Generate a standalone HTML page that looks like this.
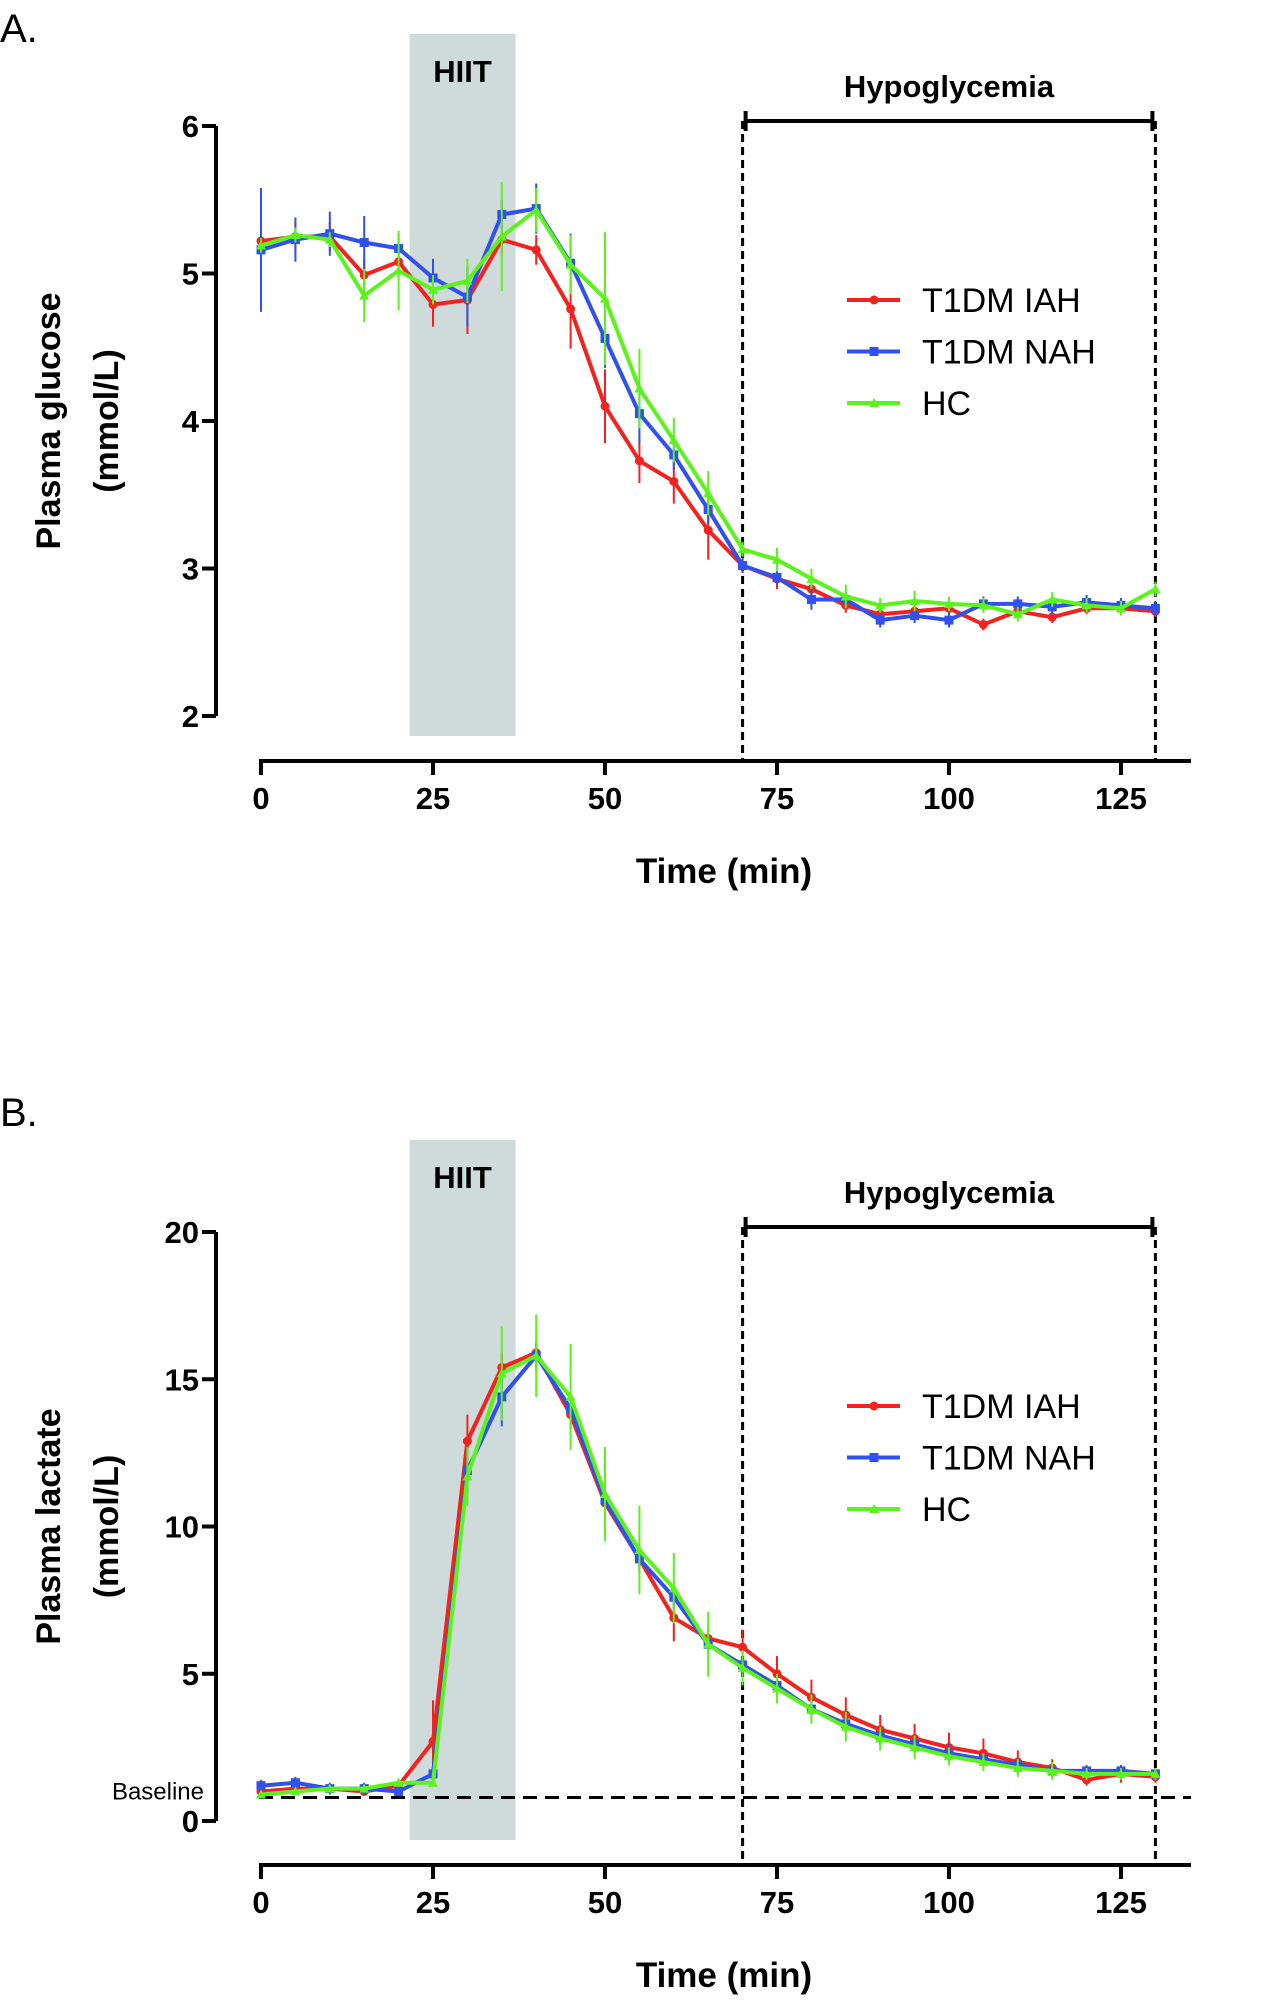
<!DOCTYPE html>
<html><head><meta charset="utf-8"><style>
html,body{margin:0;padding:0;background:#fff;}
svg{display:block;font-family:"Liberation Sans",sans-serif;}
</style></head><body>
<svg id="fig" width="1267" height="2000" viewBox="0 0 1267 2000" xmlns="http://www.w3.org/2000/svg"></svg>
<script>
const times=[0,5,10,15,20,25,30,35,40,45,50,55,60,65,70,75,80,85,90,95,100,105,110,115,120,125,130];
const xTicks=[0,25,50,75,100,125];
const gluIAH=[5.22,5.25,5.25,4.99,5.08,4.79,4.82,5.23,5.16,4.76,4.10,3.73,3.59,3.26,3.02,2.93,2.86,2.75,2.69,2.71,2.73,2.62,2.71,2.67,2.73,2.73,2.71];
const gluNAH=[5.16,5.23,5.27,5.21,5.17,4.97,4.84,5.40,5.44,5.07,4.56,4.05,3.77,3.40,3.02,2.94,2.79,2.79,2.65,2.68,2.65,2.76,2.76,2.74,2.77,2.75,2.73];
const gluHC=[5.19,5.26,5.23,4.85,5.02,4.89,4.95,5.25,5.43,5.06,4.83,4.22,3.87,3.51,3.13,3.06,2.93,2.81,2.75,2.78,2.76,2.75,2.69,2.79,2.75,2.73,2.86];
const gluIAHerr=[0.05,0.1,0.1,0.1,0.1,0.15,0.23,0.1,0.1,0.27,0.25,0.15,0.15,0.2,0.05,0.07,0.05,0.05,0.04,0.04,0.04,0.04,0.04,0.04,0.04,0.04,0.04];
const gluNAHerr=[0.42,0.15,0.15,0.18,0.1,0.13,0.2,0.1,0.17,0.2,0.2,0.2,0.1,0.1,0.05,0.05,0.07,0.05,0.05,0.05,0.05,0.05,0.05,0.05,0.05,0.05,0.05];
const gluHCerr=[0.05,0.05,0.05,0.18,0.27,0.1,0.15,0.37,0.15,0.2,0.45,0.27,0.15,0.15,0.05,0.08,0.07,0.08,0.05,0.07,0.05,0.05,0.05,0.05,0.05,0.05,0.05];
const gluTicks=[2,3,4,5,6];
const lacIAH=[1.0,1.1,1.1,1.0,1.2,2.7,12.9,15.4,15.9,13.8,10.8,8.9,6.9,6.2,5.9,5.0,4.2,3.6,3.1,2.8,2.5,2.3,2.0,1.8,1.4,1.6,1.5];
const lacNAH=[1.2,1.3,1.1,1.1,1.0,1.6,11.9,14.4,15.8,14.0,10.9,8.9,7.6,6.0,5.3,4.6,3.8,3.3,2.9,2.6,2.3,2.1,1.9,1.7,1.7,1.7,1.6];
const lacHC=[0.9,1.0,1.1,1.1,1.3,1.3,11.7,15.2,15.8,14.4,11.1,9.2,7.9,6.0,5.2,4.5,3.8,3.2,2.8,2.5,2.2,2.0,1.8,1.7,1.6,1.6,1.6];
const lacIAHerr=[0.1,0.1,0.1,0.1,0.1,1.4,0.9,0.5,0.3,0.5,0.5,0.5,0.8,0.3,0.6,0.6,0.6,0.6,0.5,0.5,0.5,0.5,0.4,0.3,0.2,0.3,0.2];
const lacNAHerr=[0.2,0.2,0.2,0.2,0.1,0.3,0.8,1.0,0.5,0.5,0.4,0.4,0.4,0.3,0.3,0.3,0.3,0.3,0.3,0.3,0.3,0.2,0.2,0.2,0.2,0.2,0.2];
const lacHCerr=[0.1,0.1,0.1,0.1,0.1,0.1,1.0,1.6,1.4,1.8,1.6,1.5,1.2,1.1,0.6,0.5,0.5,0.5,0.4,0.4,0.3,0.3,0.3,0.3,0.2,0.2,0.2];
const lacTicks=[0,5,10,15,20];
const lacBaseline=0.8;
const seriesNames=["T1DM IAH","T1DM NAH","HC"];
const colors=["#f2231f","#3050f0","#5cf21c"];

const svg=document.getElementById('fig');
const NS="http://www.w3.org/2000/svg";
function el(tag,attrs,parent,text){const e=document.createElementNS(NS,tag);for(const k in attrs)e.setAttribute(k,attrs[k]);if(text!==undefined)e.textContent=text;(parent||svg).appendChild(e);return e;}

function panel(cfg){
  const g=el('g',{});
  
  
  const x=t=>261+(t/125)*(1121-261);
  const y=v=>cfg.yBot+(v-cfg.ymin)/(cfg.ymax-cfg.ymin)*(cfg.yTop-cfg.yBot);
  const hb=el('rect',{x:x(21.6),y:cfg.hiitTop,width:x(37)-x(21.6),height:cfg.hiitBot-cfg.hiitTop,fill:'#cfdada'},g);
  
  
  const ht=el('text',{x:(x(21.6)+x(37))/2,y:cfg.hiitTop+48,'text-anchor':'middle','font-size':31,'font-weight':'bold'},g,'HIIT');
  
  
  const pl=el('text',{x:0,y:cfg.letterY,'font-size':40},g,cfg.letter);
  
  
  const ya=el('line',{x1:216,y1:cfg.yTop,x2:216,y2:cfg.yBot,stroke:'#000','stroke-width':4},g);
  
  
  cfg.ticks.forEach(v=>{
    el('line',{x1:202,y1:y(v),x2:216,y2:y(v),stroke:'#000','stroke-width':4},g);
    const tl=el('text',{x:199,y:y(v)+11,'text-anchor':'end','font-size':31,'font-weight':'bold'},g,String(v));
    
    
  });
  const xa=el('line',{x1:259,y1:cfg.xAxisY,x2:1191,y2:cfg.xAxisY,stroke:'#000','stroke-width':4},g);
  
  
  xTicks.forEach(t=>{
    el('line',{x1:x(t),y1:cfg.xAxisY,x2:x(t),y2:cfg.xAxisY+14,stroke:'#000','stroke-width':4},g);
    const tl=el('text',{x:x(t),y:cfg.xAxisY+48,'text-anchor':'middle','font-size':31,'font-weight':'bold'},g,String(t));
    
    
  });
  const xt=el('text',{x:724,y:cfg.xAxisY+122,'text-anchor':'middle','font-size':35,'font-weight':'bold'},g,'Time (min)');
  
  
  const yc=(cfg.yTop+cfg.yBot)/2;
  const yt1=el('text',{x:0,y:0,'text-anchor':'middle','font-size':34,'font-weight':'bold',transform:`translate(60,${yc}) rotate(-90)`},g,cfg.ytitle);
  
  
  const yt2=el('text',{x:0,y:0,'text-anchor':'middle','font-size':34,'font-weight':'bold',transform:`translate(118,${yc}) rotate(-90)`},g,'(mmol/L)');
  
  
  const dashTop=cfg.yTop-5;
  [70,130].forEach(t=>{
    const d=el('line',{x1:x(t),y1:dashTop,x2:x(t),y2:cfg.xAxisY,stroke:'#000','stroke-width':3,'stroke-dasharray':'8,5'},g);
    
    
  });
  const br=el('path',{d:`M${x(70)+3},${dashTop-10}V${dashTop+10}M${x(70)+3},${dashTop}H${x(130)-3}M${x(130)-3},${dashTop-10}V${dashTop+10}`,stroke:'#000','stroke-width':4,fill:'none'},g);
  
  
  const hl=el('text',{x:(x(70)+x(130))/2,y:dashTop-24,'text-anchor':'middle','font-size':31,'font-weight':'bold'},g,'Hypoglycemia');
  
  
  if(cfg.baseline!==undefined){
    const bl=el('line',{x1:259,y1:y(cfg.baseline),x2:1191,y2:y(cfg.baseline),stroke:'#000','stroke-width':3,'stroke-dasharray':'14,8'},g);
    
    
    const bt=el('text',{x:204,y:y(cfg.baseline)+2,'text-anchor':'end','font-size':24},g,'Baseline');
    
    
  }
  cfg.series.forEach((s,i)=>{
    const sg=el('g',{},g);
    
    
    s.v.forEach((v,j)=>{
      el('line',{x1:x(times[j]),y1:y(v-s.e[j]),x2:x(times[j]),y2:y(v+s.e[j]),stroke:colors[i],'stroke-width':2},sg);
    });
    const pts=s.v.map((v,j)=>x(times[j]).toFixed(1)+','+y(v).toFixed(1)).join(' ');
    el('polyline',{points:pts,fill:'none',stroke:colors[i],'stroke-width':4,'stroke-linejoin':'round'},sg);
    s.v.forEach((v,j)=>{
      const cx=x(times[j]),cy=y(v);
      if(i===0)el('circle',{cx,cy,r:4.5,fill:colors[i]},sg);
      else if(i===1)el('rect',{x:cx-4.5,y:cy-4.5,width:9,height:9,fill:colors[i]},sg);
      else el('polygon',{points:`${cx},${cy-5} ${cx-5},${cy+4} ${cx+5},${cy+4}`,fill:colors[i]},sg);
    });
  });
  const lg=el('g',{},g);
  
  
  seriesNames.forEach((n,i)=>{
    const ly=cfg.legendY+i*51.5;
    const le=el('g',{},lg);
    
    
    el('line',{x1:847,y1:ly,x2:900,y2:ly,stroke:colors[i],'stroke-width':4},le);
    if(i===0)el('circle',{cx:874,cy:ly,r:4.5,fill:colors[i]},le);
    else if(i===1)el('rect',{x:869.5,y:ly-4.5,width:9,height:9,fill:colors[i]},le);
    else el('polygon',{points:`874,${ly-5} 869,${ly+4} 879,${ly+4}`,fill:colors[i]},le);
    el('text',{x:922,y:ly+12,'font-size':34},le,n);
  });
}

panel({name:'panel-a-glucose',letter:'A.',letterY:42,ymin:2,ymax:6,yTop:126,yBot:716,xAxisY:761,
  hiitTop:34,hiitBot:736,ticks:gluTicks,ytitle:'Plasma glucose',legendY:300,
  series:[{v:gluIAH,e:gluIAHerr},{v:gluNAH,e:gluNAHerr},{v:gluHC,e:gluHCerr}]});
panel({name:'panel-b-lactate',letter:'B.',letterY:1126,ymin:0,ymax:20,yTop:1232,yBot:1821,xAxisY:1865,
  hiitTop:1140,hiitBot:1840,ticks:lacTicks,ytitle:'Plasma lactate',legendY:1406,baseline:lacBaseline,
  series:[{v:lacIAH,e:lacIAHerr},{v:lacNAH,e:lacNAHerr},{v:lacHC,e:lacHCerr}]});
</script>
</body></html>
